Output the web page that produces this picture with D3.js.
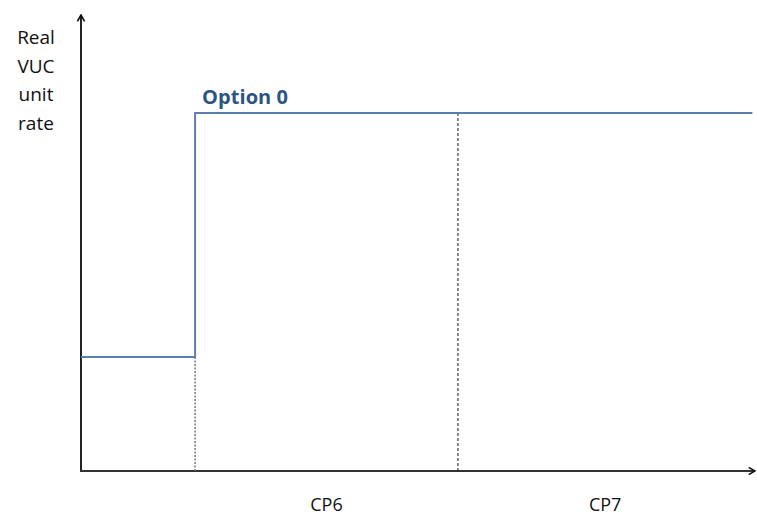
<!DOCTYPE html>
<html>
<head>
<meta charset="utf-8">
<script src="https://cdn.jsdelivr.net/npm/d3@7"></script>
<style>
  body { margin: 0; background: #fff; overflow: hidden; }
  text { font-family: "Open Sans", "Liberation Sans", sans-serif; }
</style>
</head>
<body>
<div id="chart"></div>
<script>
// step series (year, rate)
var stepYears = [2017.83, 2020, 2020, 2030.6];
var stepRates = [2.5, 2.5, 7.85, 7.85];
// period boundaries and labels
var boundaryYears = [2020, 2025];
var periodLabels = ["CP6", "CP7"];
var periodCentres = [2022.5, 2027.8];
var seriesName = "Option 0";
var yLabel = ["Real", "VUC", "unit", "rate"];

var width = 757, height = 518;

var x = d3.scaleLinear().domain([2017.83, 2030.65]).range([81, 755]);
var y = d3.scaleLinear().domain([0, 10]).range([471, 15]);

var svg = d3.select("#chart").append("svg")
    .attr("width", width)
    .attr("height", height)
    .style("display", "block");

var defs = svg.append("defs");
defs.append("marker")
    .attr("id", "arrow")
    .attr("viewBox", "0 0 10 10")
    .attr("refX", 9).attr("refY", 5)
    .attr("markerWidth", 9).attr("markerHeight", 9)
    .attr("markerUnits", "userSpaceOnUse")
    .attr("orient", "auto")
  .append("path")
    .attr("d", "M2,1 L9,5 L2,9")
    .attr("fill", "none")
    .attr("stroke", "#111")
    .attr("stroke-width", 1.8);

// axes
svg.append("line")
    .attr("x1", x(2017.83)).attr("y1", y(0))
    .attr("x2", x(2017.83)).attr("y2", y(10))
    .attr("stroke", "#222").attr("stroke-width", 2)
    .attr("marker-end", "url(#arrow)");
svg.append("line")
    .attr("x1", x(2017.83) - 1).attr("y1", y(0))
    .attr("x2", x(2030.65)).attr("y2", y(0))
    .attr("stroke", "#333").attr("stroke-width", 2)
    .attr("marker-end", "url(#arrow)");

// boundary lines
svg.append("line")
    .attr("x1", x(boundaryYears[0])).attr("y1", y(stepRates[0]))
    .attr("x2", x(boundaryYears[0])).attr("y2", y(0))
    .attr("stroke", "#777").attr("stroke-width", 1.5)
    .attr("stroke-dasharray", "2,1.5");
svg.append("line")
    .attr("x1", x(boundaryYears[1])).attr("y1", y(stepRates[3]))
    .attr("x2", x(boundaryYears[1])).attr("y2", y(0))
    .attr("stroke", "#111").attr("stroke-width", 1)
    .attr("stroke-dasharray", "3,2");

// step line
var pts = stepYears.map(function(d, i) { return {yr: d, v: stepRates[i]}; });
var line = d3.line()
    .x(function(d) { return x(d.yr); })
    .y(function(d) { return y(d.v); });
svg.append("path")
    .attr("d", line(pts))
    .attr("fill", "none")
    .attr("stroke", "#5a7fb0")
    .attr("stroke-width", 2);

svg.append("text")
    .attr("x", 202).attr("y", 104)
    .attr("fill", "#2c5484")
    .attr("font-weight", "bold")
    .attr("font-size", 20)
    .attr("textLength", 86)
    .text(seriesName);

// y label
svg.append("g").selectAll("text")
    .data(yLabel)
    .enter().append("text")
    .attr("x", 36)
    .attr("y", function(d, i) { return 44 + i * 28.5; })
    .attr("text-anchor", "middle")
    .attr("font-size", 19)
    .attr("fill", "#111")
    .text(function(d) { return d; });

// period labels
svg.append("g").selectAll("text")
    .data(periodLabels)
    .enter().append("text")
    .attr("x", function(d, i) { return x(periodCentres[i]); })
    .attr("y", 511)
    .attr("text-anchor", "middle")
    .attr("font-size", 18)
    .attr("fill", "#111")
    .text(function(d) { return d; });
</script>
</body>
</html>
